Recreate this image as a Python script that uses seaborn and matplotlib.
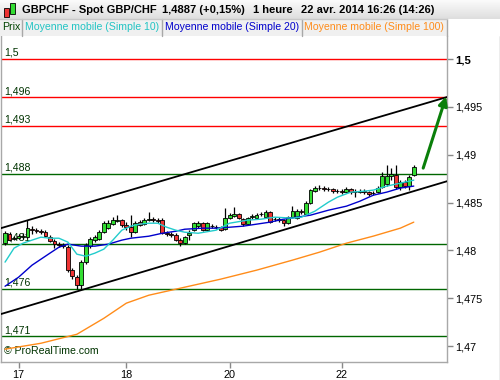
import numpy as np
import pandas as pd
import matplotlib
matplotlib.use("Agg")
import matplotlib.pyplot as plt
import seaborn as sns
from matplotlib.patches import Rectangle

# ---------------- data ----------------
opens = [1.48075, 1.48169, 1.48117, 1.48127, 1.48138, 1.48138, 1.48221, 1.48211, 1.48200, 1.48190,
         1.48138, 1.48096, 1.48064, 1.48054, 1.48033, 1.47793, 1.47719, 1.47636, 1.47876, 1.48043,
         1.48106, 1.48117, 1.48190, 1.48232, 1.48274, 1.48305, 1.48316, 1.48263, 1.48242, 1.48190,
         1.48295, 1.48274, 1.48316, 1.48326, 1.48316, 1.48316, 1.48179, 1.48169, 1.48158, 1.48106,
         1.48075, 1.48158, 1.48211, 1.48253, 1.48284, 1.48211, 1.48253, 1.48242, 1.48242, 1.48221,
         1.48336, 1.48357, 1.48378, 1.48326, 1.48274, 1.48347, 1.48336, 1.48378, 1.48347, 1.48399,
         1.48326, 1.48326, 1.48316, 1.48284, 1.48347, 1.48336, 1.48410, 1.48378, 1.48493, 1.48619,
         1.48651, 1.48651, 1.48640, 1.48640, 1.48619, 1.48619, 1.48609, 1.48640, 1.48609, 1.48609,
         1.48619, 1.48609, 1.48598, 1.48609, 1.48661, 1.48692, 1.48776, 1.48787, 1.48661, 1.48713,
         1.48671, 1.48787]
highs = [1.48200, 1.48190, 1.48148, 1.48169, 1.48179, 1.48316, 1.48253, 1.48232, 1.48221, 1.48211,
         1.48158, 1.48117, 1.48085, 1.48075, 1.48054, 1.47814, 1.47740, 1.47897, 1.48075, 1.48138,
         1.48158, 1.48211, 1.48305, 1.48316, 1.48347, 1.48368, 1.48326, 1.48295, 1.48368, 1.48305,
         1.48316, 1.48336, 1.48399, 1.48347, 1.48336, 1.48336, 1.48200, 1.48190, 1.48179, 1.48127,
         1.48148, 1.48211, 1.48295, 1.48305, 1.48295, 1.48295, 1.48274, 1.48263, 1.48253, 1.48441,
         1.48389, 1.48452, 1.48389, 1.48336, 1.48347, 1.48378, 1.48389, 1.48399, 1.48420, 1.48410,
         1.48347, 1.48347, 1.48326, 1.48357, 1.48462, 1.48431, 1.48431, 1.48514, 1.48640, 1.48671,
         1.48682, 1.48671, 1.48661, 1.48651, 1.48640, 1.48640, 1.48661, 1.48651, 1.48640, 1.48640,
         1.48640, 1.48619, 1.48619, 1.48671, 1.48818, 1.48891, 1.48860, 1.48891, 1.48734, 1.48734,
         1.48787, 1.48891]
lows = [1.48054, 1.48096, 1.48106, 1.48117, 1.48117, 1.48127, 1.48169, 1.48179, 1.48169, 1.48138,
        1.48085, 1.48022, 1.48033, 1.48022, 1.47772, 1.47698, 1.47594, 1.47594, 1.47855, 1.48022,
        1.48085, 1.48106, 1.48179, 1.48221, 1.48263, 1.48295, 1.48242, 1.48211, 1.48138, 1.48179,
        1.48253, 1.48263, 1.48305, 1.48295, 1.48284, 1.48169, 1.48148, 1.48138, 1.48096, 1.48043,
        1.48064, 1.48106, 1.48200, 1.48232, 1.48200, 1.48200, 1.48232, 1.48221, 1.48200, 1.48211,
        1.48326, 1.48347, 1.48326, 1.48253, 1.48263, 1.48326, 1.48326, 1.48357, 1.48336, 1.48284,
        1.48305, 1.48295, 1.48253, 1.48274, 1.48336, 1.48326, 1.48378, 1.48368, 1.48483, 1.48609,
        1.48630, 1.48619, 1.48619, 1.48598, 1.48598, 1.48588, 1.48598, 1.48588, 1.48556, 1.48598,
        1.48588, 1.48567, 1.48577, 1.48598, 1.48651, 1.48671, 1.48734, 1.48640, 1.48630, 1.48651,
        1.48630, 1.48776]
closes = [1.48179, 1.48106, 1.48127, 1.48148, 1.48148, 1.48232, 1.48211, 1.48200, 1.48190, 1.48148,
          1.48096, 1.48064, 1.48054, 1.48043, 1.47793, 1.47730, 1.47636, 1.47876, 1.48054, 1.48117,
          1.48138, 1.48190, 1.48284, 1.48284, 1.48316, 1.48316, 1.48263, 1.48242, 1.48190, 1.48284,
          1.48263, 1.48316, 1.48326, 1.48316, 1.48305, 1.48179, 1.48169, 1.48158, 1.48106, 1.48075,
          1.48138, 1.48179, 1.48284, 1.48284, 1.48211, 1.48284, 1.48253, 1.48242, 1.48211, 1.48336,
          1.48368, 1.48378, 1.48336, 1.48274, 1.48336, 1.48357, 1.48368, 1.48378, 1.48399, 1.48295,
          1.48326, 1.48316, 1.48284, 1.48347, 1.48410, 1.48410, 1.48399, 1.48493, 1.48630, 1.48651,
          1.48651, 1.48640, 1.48640, 1.48619, 1.48619, 1.48609, 1.48640, 1.48609, 1.48609, 1.48619,
          1.48609, 1.48588, 1.48598, 1.48651, 1.48776, 1.48776, 1.48797, 1.48661, 1.48713, 1.48671,
          1.48766, 1.48870]

ma10_bars = [0, 2, 4, 6, 8, 10, 12, 14, 16, 18, 20, 22, 24, 26, 28, 30, 32, 34, 36, 38, 40, 43, 47,
             50, 54, 57, 60, 64, 66, 69, 72, 74, 77, 80, 82, 85, 88, 91]
ma10_vals = [1.47877, 1.48023, 1.48075, 1.48107, 1.48138, 1.48127, 1.48127, 1.48086, 1.47960, 1.47939,
             1.47971, 1.48013, 1.48107, 1.48211, 1.48253, 1.48274, 1.48284, 1.48284, 1.48242, 1.48211,
             1.48190, 1.48179, 1.48211, 1.48284, 1.48316, 1.48326, 1.48347, 1.48337, 1.48347, 1.48410,
             1.48504, 1.48556, 1.48609, 1.48619, 1.48630, 1.48672, 1.48703, 1.48734]
ma20_bars = [0, 3, 6, 10, 12, 14, 17, 20, 23, 26, 28, 32, 35, 38, 40, 44, 47, 50, 53, 56, 59, 62,
             65, 68, 72, 76, 79, 82, 85, 88, 91]
ma20_vals = [1.47625, 1.47719, 1.47845, 1.47971, 1.48033, 1.48065, 1.48044, 1.48044, 1.48065, 1.48107,
             1.48127, 1.48148, 1.48179, 1.48200, 1.48221, 1.48232, 1.48232, 1.48242, 1.48253, 1.48274,
             1.48295, 1.48326, 1.48347, 1.48368, 1.48420, 1.48462, 1.48514, 1.48577, 1.48609, 1.48651,
             1.48672]
ma100_bars = [0, 8, 16, 22, 27, 32, 40, 48, 56, 64, 70, 76, 82, 88, 91]
ma100_vals = [1.46967, 1.47029, 1.47123, 1.47290, 1.47448, 1.47531, 1.47615, 1.47699, 1.47793,
              1.47898, 1.47981, 1.48075, 1.48149, 1.48232, 1.48295]

channel_bars = [-1, 99]
channel_upper = [1.48231, 1.49611]
channel_lower = [1.47333, 1.48731]

red_levels = [1.5, 1.496, 1.493]
red_labels = ["1,5", "1,496", "1,493"]
green_levels = [1.488, 1.4807, 1.476, 1.471]
green_labels = ["1,488", "1,481", "1,476", "1,471"]

arrow_bars = [93.1, 98.2]
arrow_prices = [1.4886, 1.49609]

ytick_vals = [1.47, 1.475, 1.48, 1.485, 1.49, 1.495, 1.5]
ytick_labels = ["1,47", "1,475", "1,48", "1,485", "1,49", "1,495", "1,5"]
xtick_bars = [3, 27, 50, 75]
xtick_labels = ["17", "18", "20", "22"]

# ---------------- style ----------------
sns.set_theme(style="white")
plt.rcParams['font.family'] = ['Liberation Sans', 'DejaVu Sans']

W, H = 500, 380
fig = plt.figure(figsize=(W / 100, H / 100), dpi=100)
fig.patch.set_facecolor("white")


def fx(px):
    return px / W


def fy(py):
    return 1 - py / H


# header gradient
hax = fig.add_axes([0, fy(19), 1, 19 / H])
grad = np.linspace(0, 1, 50).reshape(-1, 1)
hax.imshow(grad, aspect="auto", cmap=matplotlib.colors.LinearSegmentedColormap.from_list(
    "g", ["#fbfbfb", "#dedede"]), extent=[0, 1, 0, 1], origin="upper")
hax.set_axis_off()

# legend row
fig.patches.append(Rectangle((0, fy(36)), fx(447), 17 / H, transform=fig.transFigure,
                             facecolor="#f0f0f0", edgecolor="none", zorder=0))
for bx in [22, 162, 302, 447]:
    fig.add_artist(plt.Line2D([fx(bx), fx(bx)], [fy(36), fy(19)], transform=fig.transFigure,
                              color="#a8a8a8", lw=1))
fig.add_artist(plt.Line2D([0, fx(447)], [fy(19), fy(19)], transform=fig.transFigure,
                          color="#c8c8c8", lw=1))

# icon
fig.patches.append(Rectangle((fx(4), fy(17)), fx(5), 9 / H, transform=fig.transFigure,
                             facecolor="#ee3333", edgecolor="black", lw=0.6))
fig.patches.append(Rectangle((fx(10), fy(14)), fx(5), 11 / H, transform=fig.transFigure,
                             facecolor="#33dd33", edgecolor="black", lw=0.6))

hdr = dict(fontsize=8, fontweight="bold", va="center", color="black")
fig.text(fx(22), fy(10), "GBPCHF - Spot GBP/CHF", **hdr)
fig.text(fx(162), fy(10), "1,4887 (+0,15%)", **hdr)
fig.text(fx(253), fy(10), "1 heure", **hdr)
fig.text(fx(301), fy(10), "22 avr. 2014 16:26 (14:26)", **hdr)

leg = dict(fontsize=7.6, va="center")
fig.text(fx(2), fy(27.5), "Prix", color="#004400", **leg)
fig.text(fx(25), fy(27.5), "Moyenne mobile (Simple 10)", color="#22c4c4", **leg)
fig.text(fx(165), fy(27.5), "Moyenne mobile (Simple 20)", color="#0000cc", **leg)
fig.text(fx(304), fy(27.5), "Moyenne mobile (Simple 100)", color="#ff8c1a", **leg)

# ---------------- main axes ----------------
ax = fig.add_axes([0.002, fy(362), 447 / W - 0.002, (362 - 36) / H])
ax.set_facecolor("white")
ax.set_xlim(-0.9, 98.4)
ax.set_ylim(1.46833, 1.50241)

for v in red_levels:
    ax.axhline(v, color="#ff0000", lw=1.0, zorder=1)
for v in green_levels:
    ax.axhline(v, color="#006600", lw=1.0, zorder=1)
for v, t in zip(red_levels + green_levels, red_labels + green_labels):
    ax.text(3 / 447, v + 0.00012, t, transform=ax.get_yaxis_transform(), fontsize=7.6,
            color="#003300", va="bottom", ha="left", zorder=1.5)

df = pd.DataFrame(dict(i=np.arange(len(opens)), o=opens, h=highs, l=lows, c=closes))
cols = np.where(df.c > df.o, "#33dd33", np.where(df.c < df.o, "#ee3333", "black"))
ax.vlines(df.i, df.l, df.h, color="black", lw=0.9, zorder=3)
ax.bar(df.i, df.c - df.o, bottom=df.o, width=0.86, color=cols, edgecolor="black",
       linewidth=0.6, zorder=4)

sns.lineplot(x=ma100_bars, y=ma100_vals, ax=ax, color="#ff8c1a", lw=1.0, zorder=5)
sns.lineplot(x=ma20_bars, y=ma20_vals, ax=ax, color="#0000cc", lw=1.0, zorder=5)
sns.lineplot(x=ma10_bars, y=ma10_vals, ax=ax, color="#22cccc", lw=1.0, zorder=5)

sns.lineplot(x=channel_bars, y=channel_upper, ax=ax, color="black", lw=1.3, zorder=6)
sns.lineplot(x=channel_bars, y=channel_lower, ax=ax, color="black", lw=1.3, zorder=6)

ax.annotate("", xy=(arrow_bars[1], arrow_prices[1]), xytext=(arrow_bars[0], arrow_prices[0]),
            arrowprops=dict(arrowstyle="-|>", color="#0a7f0a", lw=2.2, mutation_scale=13,
                            shrinkA=0, shrinkB=0), zorder=7, annotation_clip=False)

ax.text(3 / 447, 1.46833 + 0.0011, "© ProRealTime.com", transform=ax.get_yaxis_transform(),
        fontsize=7.6, color="#003300", va="center", ha="left")

# axes styling
for s in ["left", "right", "bottom"]:
    ax.spines[s].set_color("#a8a8a8")
    ax.spines[s].set_linewidth(1.0)
ax.spines["top"].set_visible(False)

ax.yaxis.tick_right()
ax.set_yticks(ytick_vals, ytick_labels)
ax.set_xticks(xtick_bars, xtick_labels)
ax.tick_params(axis="y", direction="out", length=4, width=1, color="#888888", pad=2,
               labelsize=7.8, labelcolor="black", right=True, left=False)
ax.tick_params(axis="x", direction="out", length=4, width=1, color="#888888", pad=2,
               labelsize=7.8, labelcolor="black", bottom=True)
for lab in ax.get_yticklabels():
    if lab.get_text() == "1,5":
        lab.set_fontweight("bold")
        lab.set_fontsize(8.2)
ax.set_xlabel("")
ax.set_ylabel("")
ax.grid(False)

# figure border lines
fig.add_artist(plt.Line2D([fx(499.5), fx(499.5)], [0, fy(36)], transform=fig.transFigure,
                          color="#a8a8a8", lw=1))

fig.savefig("out.png", dpi=100)
